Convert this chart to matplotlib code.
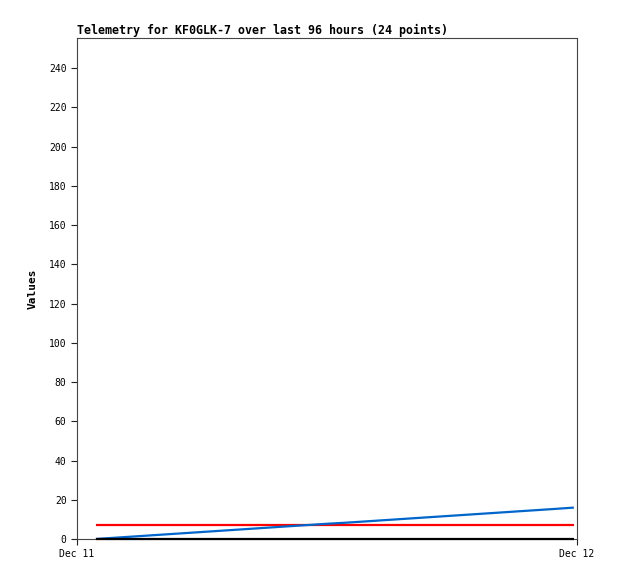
import matplotlib
matplotlib.use('Agg')
import matplotlib.pyplot as plt

# hours after Dec 11 00:00
hours = [0.9, 1.9, 2.9, 3.9, 4.9, 5.9, 6.9, 7.9, 8.9, 9.9, 10.9, 11.9,
         12.9, 13.9, 14.9, 15.9, 16.9, 17.9, 18.9, 19.9, 20.9, 21.9, 22.9, 23.85]
black_vals = [0] * 24
red_vals = [7] * 24
blue_vals = [0.0, 0.7, 1.4, 2.1, 2.8, 3.5, 4.2, 4.9, 5.6, 6.3, 7.0, 7.7,
             8.3, 9.0, 9.7, 10.4, 11.1, 11.8, 12.5, 13.2, 13.9, 14.6, 15.3, 16.0]
xtick_pos = [0, 24]
xtick_labels = ['Dec 11', 'Dec 12']
yticks = [0, 20, 40, 60, 80, 100, 120, 140, 160, 180, 200, 220, 240]

plt.rcParams['font.family'] = 'DejaVu Sans Mono'

fig = plt.figure(figsize=(6.18, 5.79), dpi=100)
ax = fig.add_axes([77/618, 40/579, 500/618, 501/579])

ax.plot(hours, red_vals, color='#ff0000', lw=1.6, solid_capstyle='butt', zorder=2)
ax.plot(hours, blue_vals, color='#0066cc', lw=1.6, solid_capstyle='butt', zorder=3)
# black series sits on the bottom edge, drawn over the others
ax.plot(hours, black_vals, color='black', lw=1.6, solid_capstyle='butt',
        zorder=4, clip_on=False)

ax.set_xlim(0, 24)
ax.set_ylim(0, 255.3)
ax.set_xticks(xtick_pos)
ax.set_xticklabels(xtick_labels)
ax.set_yticks(yticks)
ax.tick_params(axis='both', labelsize=7, length=4.5, width=0.8, color='#222222', pad=3)
for s in ax.spines.values():
    s.set_color('#444444')
    s.set_linewidth(0.8)

ax.set_ylabel('Values', fontsize=8, fontweight='bold', labelpad=8)
ax.set_title('Telemetry for KF0GLK-7 over last 96 hours (24 points)',
             fontsize=8.35, fontweight='bold', loc='left', pad=3)

fig.savefig('out.png', dpi=100)
